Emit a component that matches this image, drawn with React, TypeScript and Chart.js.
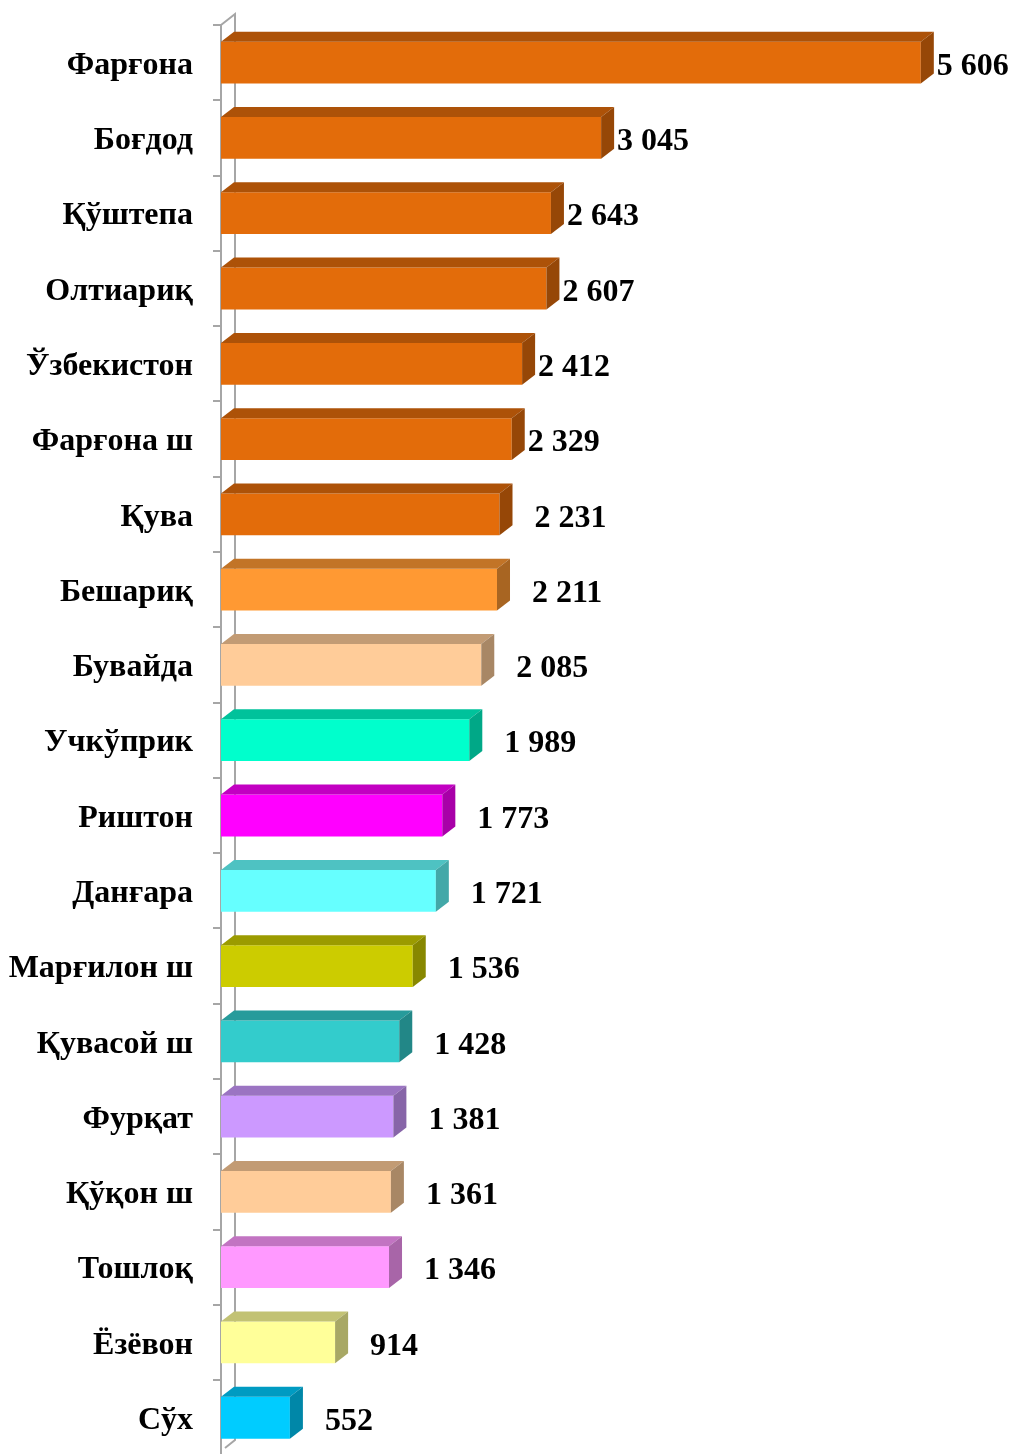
import React, { useEffect, useRef } from 'react';
import { Chart, registerables } from 'chart.js';

Chart.register(...registerables);

const categories = [
  'Фарғона', 'Боғдод', 'Қўштепа', 'Олтиариқ', 'Ўзбекистон', 'Фарғона ш', 'Қува',
  'Бешариқ', 'Бувайда', 'Учкўприк', 'Риштон', 'Данғара', 'Марғилон ш', 'Қувасой ш',
  'Фурқат', 'Қўқон ш', 'Тошлоқ', 'Ёзёвон', 'Сўх',
];

const values = [
  5606, 3045, 2643, 2607, 2412, 2329, 2231, 2211, 2085, 1989, 1773, 1721, 1536, 1428,
  1381, 1361, 1346, 914, 552,
];

const barColors = [
  '#E36C0A', '#E36C0A', '#E36C0A', '#E36C0A', '#E36C0A', '#E36C0A', '#E36C0A',
  '#FF9933', '#FFCC99', '#00FFCC', '#FF00FF', '#66FFFF', '#CCCC00', '#33CCCC',
  '#CC99FF', '#FFCC99', '#FF99FF', '#FFFF99', '#00CCFF',
];

const FONT = '"Liberation Serif", "Times New Roman", serif';
const DX = 13;
const DY = 10;
const AXIS_GRAY = '#A6A6A6';

function shade(hex: string, f: number): string {
  const n = parseInt(hex.slice(1), 16);
  const r = Math.round(((n >> 16) & 255) * f);
  const g = Math.round(((n >> 8) & 255) * f);
  const b = Math.round((n & 255) * f);
  return `rgb(${r},${g},${b})`;
}

function fmt(v: number): string {
  return String(v).replace(/\B(?=(\d{3})+(?!\d))/g, ' ');
}

const threeD = {
  id: 'threeD',
  beforeDatasetsDraw(chart: any) {
    const { ctx, chartArea } = chart;
    const l = chartArea.left;
    ctx.save();
    ctx.strokeStyle = AXIS_GRAY;
    ctx.lineWidth = 2;
    ctx.beginPath();
    ctx.moveTo(l, chartArea.top);
    ctx.lineTo(l + DX + 1, chartArea.top - DY - 1);
    ctx.lineTo(l + DX + 1, 1440);
    ctx.lineTo(l + 4, 1448);
    ctx.stroke();
    ctx.restore();
  },
  afterDatasetsDraw(chart: any) {
    const { ctx } = chart;
    const meta = chart.getDatasetMeta(0);
    ctx.save();
    meta.data.forEach((el: any, i: number) => {
      const { x, y, base, height } = el.getProps(['x', 'y', 'base', 'height'], true);
      const top = y - height / 2;
      const bottom = y + height / 2;
      const c = barColors[i];
      // top face
      ctx.fillStyle = shade(c, 0.76);
      ctx.beginPath();
      ctx.moveTo(base, top);
      ctx.lineTo(base + DX, top - DY);
      ctx.lineTo(x + DX, top - DY);
      ctx.lineTo(x, top);
      ctx.closePath();
      ctx.fill();
      // side face
      ctx.fillStyle = shade(c, 0.66);
      ctx.beginPath();
      ctx.moveTo(x, top);
      ctx.lineTo(x + DX, top - DY);
      ctx.lineTo(x + DX, bottom - DY);
      ctx.lineTo(x, bottom);
      ctx.closePath();
      ctx.fill();
      // value label
      const gap = c === '#E36C0A' && i < 6 ? 3 : 22;
      ctx.fillStyle = '#000';
      ctx.font = `bold 32px ${FONT}`;
      ctx.textAlign = 'left';
      ctx.textBaseline = 'middle';
      ctx.fillText(fmt(values[i]), x + DX + gap, y + 4);
    });
    ctx.restore();
  },
};

export default function App() {
  const ref = useRef<HTMLCanvasElement>(null);

  useEffect(() => {
    if (!ref.current) return;
    const chart = new Chart(ref.current, {
      type: 'bar',
      data: {
        labels: categories,
        datasets: [
          {
            data: values,
            backgroundColor: barColors,
            borderWidth: 0,
            barPercentage: 0.555,
            categoryPercentage: 1,
          },
        ],
      },
      options: {
        indexAxis: 'y',
        animation: false,
        responsive: false,
        maintainAspectRatio: false,
        layout: { padding: { top: 25, right: 42, bottom: 14.6, left: 0 } },
        plugins: {
          legend: { display: false },
          tooltip: { enabled: false },
        },
        scales: {
          x: {
            display: false,
            min: 0,
            max: 6000,
          },
          y: {
            afterFit: (s: any) => {
              s.width = 221;
              s.paddingTop = 0;
              s.paddingBottom = 0;
            },
            grid: {
              display: true,
              drawOnChartArea: false,
              drawTicks: true,
              tickLength: 8,
              color: AXIS_GRAY,
              lineWidth: 2,
              offset: true,
            },
            border: { display: true, color: AXIS_GRAY, width: 2 },
            ticks: {
              color: '#000',
              padding: 20,
              labelOffset: 3,
              font: { family: FONT, size: 32, weight: 'bold' },
            },
          },
        },
      },
      plugins: [threeD],
    });
    return () => chart.destroy();
  }, []);

  return (
    <div style={{ position: 'absolute', left: 0, top: 0, width: 1012, height: 1454, overflow: 'hidden', background: '#fff' }}>
      <canvas ref={ref} width={1012} height={1470} style={{ display: 'block', width: 1012, height: 1470 }} />
    </div>
  );
}
